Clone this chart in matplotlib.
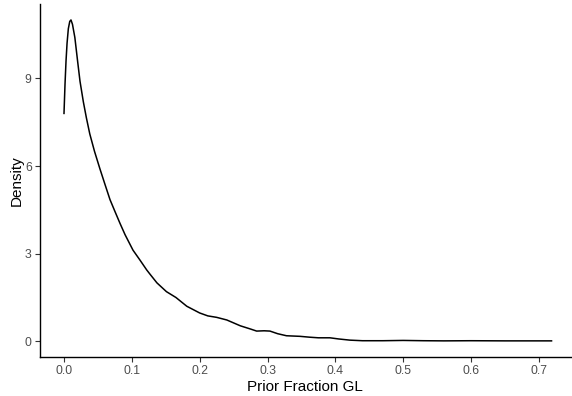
import numpy as np
import matplotlib.pyplot as plt

plt.rcParams["font.family"] = ["Liberation Sans", "DejaVu Sans"]

# density estimate of the prior GL fraction
frac = [0.0, 0.0015, 0.003, 0.0045, 0.0064, 0.0085, 0.0103, 0.0125, 0.016,
        0.02, 0.0236, 0.0285, 0.033, 0.038, 0.045, 0.053, 0.06, 0.0678,
        0.075, 0.0825, 0.09, 0.1017, 0.112, 0.122, 0.1267, 0.137, 0.151,
        0.165, 0.181, 0.2, 0.212, 0.225, 0.24, 0.26, 0.275, 0.284, 0.295,
        0.3036, 0.315, 0.328, 0.348, 0.3625, 0.375, 0.392, 0.405, 0.4214,
        0.44, 0.47, 0.5, 0.53, 0.56, 0.6, 0.65, 0.7187]
density = [7.8, 8.8, 9.6, 10.2, 10.7, 10.95, 11.0, 10.85, 10.4,
           9.6, 8.9, 8.2, 7.65, 7.1, 6.5, 5.9, 5.4, 4.85,
           4.45, 4.04, 3.65, 3.12, 2.78, 2.44, 2.3, 2.0, 1.70,
           1.5, 1.2, 0.97, 0.87, 0.82, 0.73, 0.53, 0.42, 0.35, 0.36,
           0.35, 0.26, 0.19, 0.17, 0.14, 0.12, 0.12, 0.08, 0.04,
           0.02, 0.02, 0.03, 0.02, 0.015, 0.02, 0.015, 0.015]

xticks = [0.0, 0.1, 0.2, 0.3, 0.4, 0.5, 0.6, 0.7]
yticks = [0, 3, 6, 9]

fig = plt.figure(figsize=(5.72, 3.96), dpi=100)
ax = fig.add_axes([0.0699, 0.0985, 0.928, 0.891])

ax.plot(frac, density, color="black", lw=1.1, solid_joinstyle="round")

ax.set_xlim(-0.0354, 0.7471)
ax.set_ylim(-0.537, 11.54)
ax.set_xticks(xticks)
ax.set_xticklabels([f"{v:.1f}" for v in xticks])
ax.set_yticks(yticks)

for side in ["top", "right"]:
    ax.spines[side].set_visible(False)
for side in ["left", "bottom"]:
    ax.spines[side].set_linewidth(1.0)
    ax.spines[side].set_color("black")

ax.tick_params(length=3.5, width=0.8, color="#333333", labelcolor="#4d4d4d",
               labelsize=8.8, pad=2.5)
ax.set_xlabel("Prior Fraction GL", fontsize=11, labelpad=2)
ax.set_ylabel("Density", fontsize=11, labelpad=1)

fig.savefig("out.png", dpi=100)
